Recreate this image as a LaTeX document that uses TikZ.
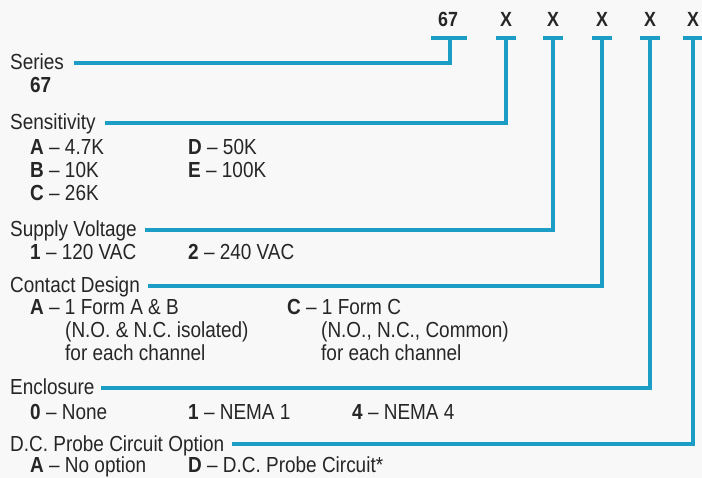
\documentclass[tikz,border=0pt]{standalone}
\usepackage{fontspec}
\setmainfont[FakeStretch=0.87]{Liberation Sans}
\definecolor{leadblue}{RGB}{28,157,198}
\definecolor{txtgray}{RGB}{38,38,38}
\definecolor{pagegray}{RGB}{248,248,248}

\begin{document}
\begin{tikzpicture}[
    x=1pt, y=-1pt,
    hdr/.style={
        font=\fontsize{20.5}{23}\selectfont\bfseries,
        text=txtgray,
        inner sep=0pt,
        anchor=base
    },
    grp/.style={
        font=\fontsize{21.8}{24}\selectfont,
        text=txtgray,
        inner sep=0pt,
        text height=14pt,
        text depth=0pt,
        anchor=base west
    },
    opt/.style={
        font=\fontsize{21.8}{24}\selectfont,
        text=txtgray,
        inner sep=0pt,
        anchor=base west
    },
    lead/.style={
        draw=leadblue,
        line width=3.6pt
    }
]

%--- page ---
\fill[pagegray] (0,0) rectangle (702,478);
\useasboundingbox (0,0) rectangle (702,478);

%--- model code header ---
\node[hdr] (h0) at (448,27) {67};
\node[hdr] (h1) at (506,27) {X};
\node[hdr] (h2) at (553,27) {X};
\node[hdr] (h3) at (602,27) {X};
\node[hdr] (h4) at (650,27) {X};
\node[hdr] (h5) at (693,27) {X};

\coordinate (t0) at (450,38);
\coordinate (t1) at (506,38);
\coordinate (t2) at (553,38);
\coordinate (t3) at (602,38);
\coordinate (t4) at (650,38);
\coordinate (t5) at (693,38);

\draw[lead] ([xshift=-19]t0) -- ([xshift=17]t0);
\foreach \i in {1,...,5}
    \draw[lead] ([xshift=-10]t\i) -- ([xshift=10]t\i);

%--- 1. Series ---
\node[grp] (series) at (10,70) {Series};
\node[opt] (seriesA) at (30,93) {\textbf{67}};

%--- 2. Sensitivity ---
\node[grp] (sens) at (10,130) {Sensitivity};
\node[opt] (sensA) at (30,155)  {\textbf{A} – 4.7K};
\node[opt] (sensD) at (188,155) {\textbf{D} – 50K};
\node[opt] (sensB) at (30,178)  {\textbf{B} – 10K};
\node[opt] (sensE) at (188,178) {\textbf{E} – 100K};
\node[opt] (sensC) at (30,201)  {\textbf{C} – 26K};

%--- 3. Supply Voltage ---
\node[grp] (supply) at (10,237) {Supply Voltage};
\node[opt] (supply1) at (30,260)  {\textbf{1} – 120 VAC};
\node[opt] (supply2) at (188,260) {\textbf{2} – 240 VAC};

%--- 4. Contact Design ---
\node[grp] (contact) at (10,293) {Contact Design};
\node[opt] (contactA)  at (30,315)  {\textbf{A} – 1 Form A \& B};
\node[opt] (contactA2) at (65,338)  {(N.O. \& N.C. isolated)};
\node[opt] (contactA3) at (65,361)  {for each channel};
\node[opt] (contactC)  at (287,315) {\textbf{C} – 1 Form C};
\node[opt] (contactC2) at (321,338) {(N.O., N.C., Common)};
\node[opt] (contactC3) at (321,361) {for each channel};

%--- 5. Enclosure ---
\node[grp] (encl) at (10,395) {Enclosure};
\node[opt] (encl0) at (30,420)  {\textbf{0} – None};
\node[opt] (encl1) at (188,420) {\textbf{1} – NEMA 1};
\node[opt] (encl4) at (352,420) {\textbf{4} – NEMA 4};

%--- 6. D.C. Probe Circuit Option ---
\node[grp] (probe) at (10,451) {D.C. Probe Circuit Option};
\node[opt] (probeA) at (30,472)  {\textbf{A} – No option};
\node[opt] (probeD) at (188,472) {\textbf{D} – D.C. Probe Circuit*};

%--- leaders: group -> code position ---
\draw[lead] ([xshift=10]series.east)  -| (t0);
\draw[lead] ([xshift=9]sens.east)     -| (t1);
\draw[lead] ([xshift=8]supply.east)   -| (t2);
\draw[lead] ([xshift=8]contact.east)  -| (t3);
\draw[lead] ([xshift=6]encl.east)     -| (t4);
\draw[lead] ([xshift=8]probe.east)    -| (t5);

\end{tikzpicture}
\end{document}
